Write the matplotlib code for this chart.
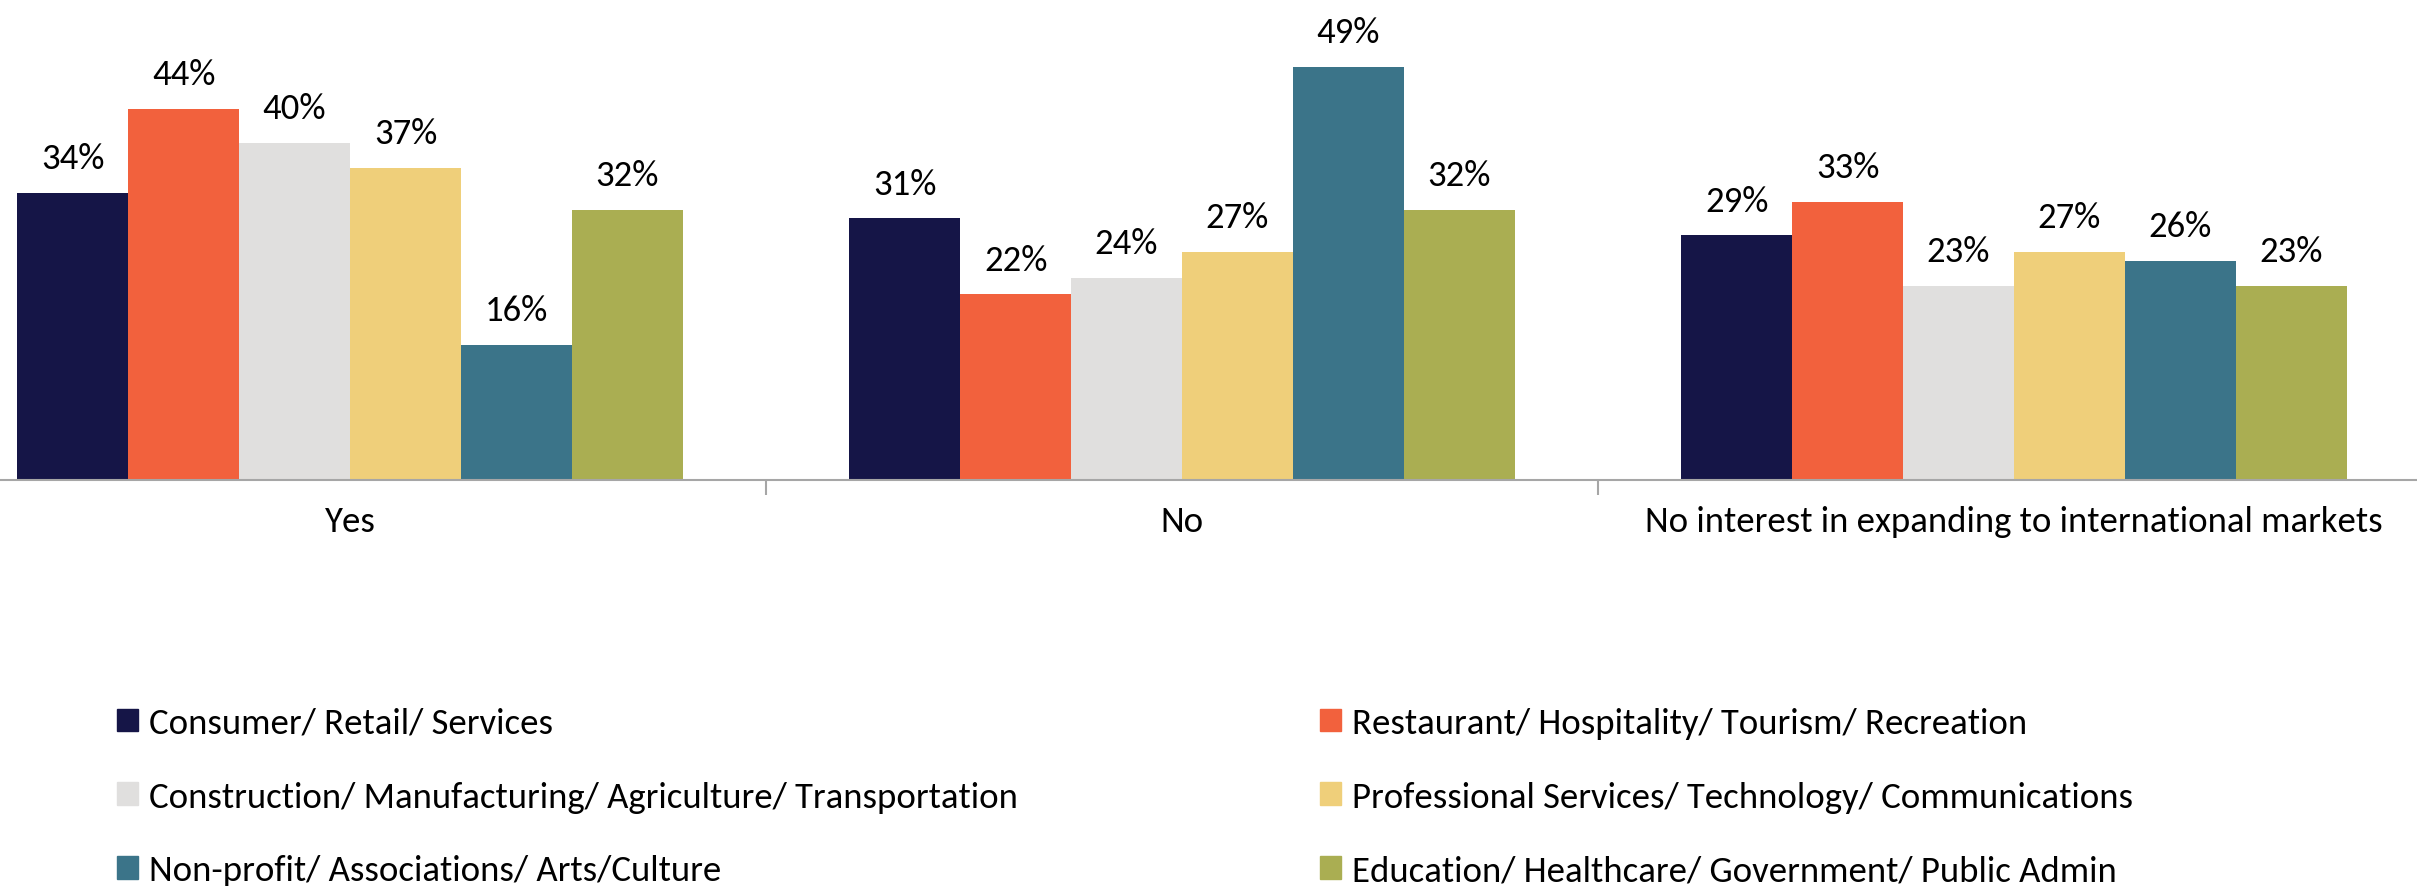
import matplotlib
matplotlib.use("Agg")
import matplotlib.pyplot as plt
import matplotlib.font_manager as fm
from matplotlib.patches import Patch
import numpy as np

# survey answers by sector
categories = ["Yes", "No", "No interest in expanding to international markets"]
sectors = [
    "Consumer/ Retail/ Services",
    "Restaurant/ Hospitality/ Tourism/ Recreation",
    "Construction/ Manufacturing/ Agriculture/ Transportation",
    "Professional Services/ Technology/ Communications",
    "Non-profit/ Associations/ Arts/Culture",
    "Education/ Healthcare/ Government/ Public Admin",
]
consumer = [34, 31, 29]
restaurant = [44, 22, 33]
construction = [40, 24, 23]
professional = [37, 27, 27]
nonprofit = [16, 49, 26]
education = [32, 32, 23]
series = [consumer, restaurant, construction, professional, nonprofit, education]

colors = ["#151547", "#F2613D", "#E0DFDE", "#EFCF7A", "#3B7489", "#AAAE52"]

installed = {f.name for f in fm.fontManager.ttflist}
family = [f for f in ["Carlito", "Liberation Sans Narrow", "Open Sans"] if f in installed]
plt.rcParams["font.family"] = family + ["DejaVu Sans"]

FS = 26.5

fig = plt.figure(figsize=(24.17, 8.87), dpi=100)
ax = fig.add_axes([-66 / 2417, 406 / 887, 2496 / 2417, 464 / 887])

x = np.arange(len(categories))
n = len(series)
width = 0.8 / n
for i, vals in enumerate(series):
    pos = x - 0.4 + width * (i + 0.5)
    bars = ax.bar(pos, vals, width, color=colors[i], label=sectors[i])
    for b, v in zip(bars, vals):
        ax.annotate(f"{v}%", (b.get_x() + b.get_width() / 2, v),
                    xytext=(0, 13.5), textcoords="offset points",
                    ha="center", va="bottom", fontsize=FS)

ax.set_xlim(-0.5, 2.5)
ax.set_ylim(0, 55)
ax.set_yticks([])
for s in ["top", "right", "left"]:
    ax.spines[s].set_visible(False)
ax.spines["bottom"].set_color("#A6A6A6")
ax.spines["bottom"].set_linewidth(1.5)

ax.set_xticks(x)
ax.set_xticklabels(categories, fontsize=FS)
ax.tick_params(axis="x", which="major", length=0, pad=18)
ax.set_xticks([0.5, 1.5], minor=True)
ax.tick_params(axis="x", which="minor", length=11, width=1.5, color="#A6A6A6")

# legend: two columns, filled column by column
order = [0, 2, 4, 1, 3, 5]
handles = [Patch(color=colors[i]) for i in order]
labels = [sectors[i] for i in order]
fig.legend(handles, labels, ncol=2, loc="upper left",
           bbox_to_anchor=(117 / 2417, 1 - 708 / 887), frameon=False,
           fontsize=FS, handlelength=0.58, handleheight=0.58,
           handletextpad=0.3, labelspacing=1.13, columnspacing=8.2,
           borderpad=0, borderaxespad=0)

fig.savefig("out.png", dpi=100)
